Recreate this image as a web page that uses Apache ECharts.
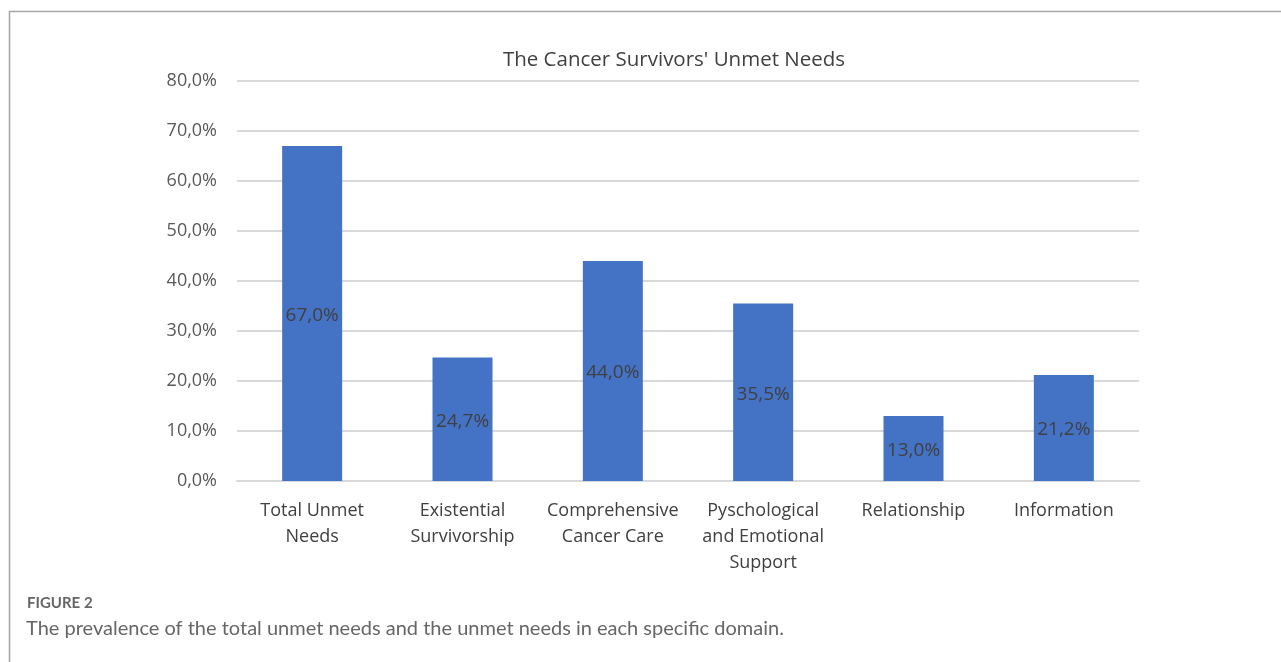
<!DOCTYPE html>
<html>
<head>
<meta charset="utf-8">
<script src="https://cdn.jsdelivr.net/npm/echarts@6/dist/echarts.min.js"></script>
<style>
  html, body { margin: 0; padding: 0; background: #fff; }
  #chart { width: 1281px; height: 662px; }
</style>
</head>
<body>
<div id="chart"></div>
<script>
// categories and values (percent)
var categories = ['Total Unmet\nNeeds', 'Existential\nSurvivorship', 'Comprehensive\nCancer Care',
  'Pyschological\nand Emotional\nSupport', 'Relationship', 'Information'];
var unmetValues = [67.0, 24.7, 44.0, 35.5, 13.0, 21.2];
var yTicks = [0, 10, 20, 30, 40, 50, 60, 70, 80];

function pct(v) {
  return v.toFixed(1).replace('.', ',') + '%';
}

var chart = echarts.init(document.getElementById('chart'));

var option = {
  animation: false,
  backgroundColor: '#fff',
  title: {
    text: "The Cancer Survivors' Unmet Needs",
    left: 669,
    top: 45,
    textAlign: 'center',
    textStyle: {
      fontFamily: 'Open Sans',
      fontSize: 20.5,
      fontWeight: 'normal',
      color: '#404040'
    }
  },
  grid: {
    left: 237,
    right: 142,
    top: 81,
    bottom: 181
  },
  xAxis: {
    type: 'category',
    data: categories,
    axisLine: { lineStyle: { color: '#d9d9d9', width: 2 } },
    axisTick: { show: false },
    axisLabel: {
      interval: 0,
      margin: 17,
      fontFamily: 'Open Sans',
      fontSize: 18,
      lineHeight: 26,
      color: '#404040'
    }
  },
  yAxis: {
    type: 'value',
    min: yTicks[0],
    max: yTicks[yTicks.length - 1],
    interval: 10,
    axisLine: { show: false },
    axisTick: { show: false },
    splitLine: { lineStyle: { color: '#d9d9d9', width: 2 } },
    axisLabel: {
      margin: 20,
      fontFamily: 'Open Sans',
      fontSize: 18,
      color: '#595959',
      formatter: function (v) { return pct(v); }
    }
  },
  series: [{
    type: 'bar',
    data: unmetValues,
    barWidth: 60,
    itemStyle: { color: '#4472c4' },
    label: {
      show: true,
      position: 'inside',
      offset: [0, 2],
      fontFamily: 'Open Sans',
      fontSize: 19,
      color: '#404040',
      formatter: function (p) { return pct(p.value); }
    }
  }],
  graphic: [
    {
      type: 'polyline',
      shape: { points: [[9.5, 662], [9.5, 11.5], [1281, 11.5]] },
      style: { stroke: '#a6a6a6', lineWidth: 1.5, fill: null }
    },
    {
      type: 'text',
      left: 27,
      top: 596,
      style: {
        text: 'FIGURE 2',
        fontFamily: 'Lato',
        fontWeight: 'bold',
        fontSize: 15,
        fill: '#666'
      }
    },
    {
      type: 'text',
      left: 26,
      top: 619,
      style: {
        text: 'The prevalence of the total unmet needs and the unmet needs in each specific domain.',
        fontFamily: 'Lato',
        fontSize: 20,
        fill: '#666'
      }
    }
  ]
};

chart.setOption(option);
</script>
</body>
</html>
